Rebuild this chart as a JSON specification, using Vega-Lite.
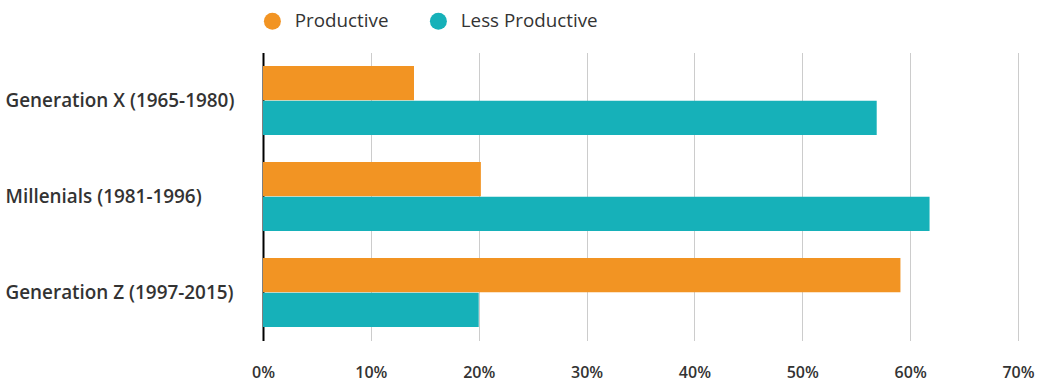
{
  "$schema": "https://vega.github.io/schema/vega-lite/v6.json",
  "autosize": "none",
  "width": 755,
  "height": 288,
  "padding": {"left": 263, "top": 52.5, "right": 25, "bottom": 42.5},
  "background": "white",
  "config": {
    "view": {"stroke": null},
    "font": "Open Sans"
  },
  "data": {
    "values": [
      {"generation": "Generation X (1965-1980)", "series": "Productive", "value": 0.14},
      {"generation": "Generation X (1965-1980)", "series": "Less Productive", "value": 0.569},
      {"generation": "Millenials (1981-1996)", "series": "Productive", "value": 0.202},
      {"generation": "Millenials (1981-1996)", "series": "Less Productive", "value": 0.618},
      {"generation": "Generation Z (1997-2015)", "series": "Productive", "value": 0.591},
      {"generation": "Generation Z (1997-2015)", "series": "Less Productive", "value": 0.2}
    ]
  },
  "mark": {"type": "bar"},
  "encoding": {
    "y": {
      "field": "generation",
      "type": "nominal",
      "sort": null,
      "scale": {"paddingInner": 0.28, "paddingOuter": 0.14},
      "axis": {
        "title": null,
        "ticks": false,
        "tickSize": 0,
        "labelAlign": "left",
        "labelPadding": 258,
        "labelLimit": 400,
        "labelFont": "Open Sans",
        "labelFontWeight": 600,
        "labelFontSize": 18.9,
        "labelColor": "#333333",
        "domainColor": "#000000",
        "domainWidth": 2,
        "grid": false
      }
    },
    "yOffset": {
      "field": "series",
      "type": "nominal",
      "sort": ["Productive", "Less Productive"],
      "scale": {"paddingInner": 0.02}
    },
    "x": {
      "field": "value",
      "type": "quantitative",
      "scale": {"domain": [0, 0.7], "nice": false},
      "axis": {
        "title": null,
        "format": ".0%",
        "values": [0, 0.1, 0.2, 0.3, 0.4, 0.5, 0.6, 0.7],
        "domain": false,
        "ticks": false,
        "tickSize": 0,
        "labelFlush": false,
        "labelOverlap": false,
        "labelPadding": 24,
        "labelFont": "Open Sans",
        "labelFontWeight": 600,
        "labelFontSize": 16,
        "labelColor": "#333333",
        "grid": true,
        "gridColor": "#cccccc",
        "gridWidth": 1
      }
    },
    "color": {
      "field": "series",
      "type": "nominal",
      "sort": ["Productive", "Less Productive"],
      "scale": {"domain": ["Productive", "Less Productive"], "range": ["#F29423", "#16B1B9"]},
      "legend": {
        "title": null,
        "orient": "none",
        "direction": "horizontal",
        "legendX": 0,
        "legendY": -41,
        "padding": 0,
        "symbolType": "circle",
        "symbolSize": 289,
        "symbolStrokeWidth": 0,
        "symbolOpacity": 1,
        "labelFont": "Open Sans",
        "labelFontSize": 18.8,
        "labelColor": "#333333",
        "labelOffset": 13,
        "columnPadding": 40
      }
    }
  }
}
